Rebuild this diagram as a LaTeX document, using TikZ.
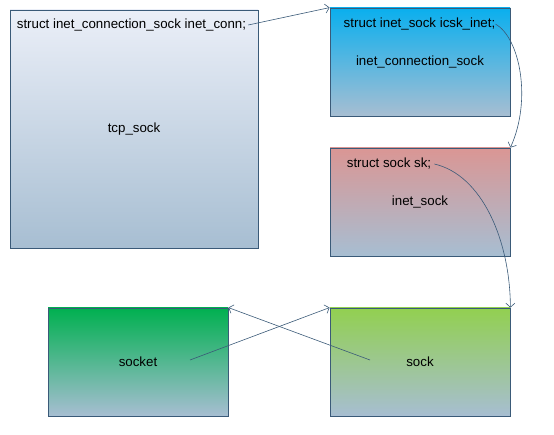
\documentclass[tikz,border=0pt]{standalone}
\usepackage{fontspec}
\setmainfont{Liberation Sans}
\usetikzlibrary{arrows.meta}
\definecolor{edgeblue}{HTML}{3A5A78}
\definecolor{fadeblue}{HTML}{A7BED2}
\definecolor{paleblue}{HTML}{EBEFF8}
\definecolor{skyblue}{HTML}{0AAFEE}
\definecolor{rosered}{HTML}{DA9694}
\definecolor{deepgreen}{HTML}{00B050}
\definecolor{limegreen}{HTML}{92D050}

\begin{document}
\begin{tikzpicture}[x=1pt,y=-1pt,font=\fontsize{13.3}{16}\selectfont,
    structbox/.style={draw=edgeblue,line width=0.8pt,bottom color=fadeblue,minimum width=180pt,minimum height=108pt,inner sep=0pt},
    ptr/.style={draw=edgeblue,line width=0.6pt,-{Straight Barb[length=4pt,width=9pt]}}]
            \useasboundingbox (0,0) rectangle (554,435);
            \node[structbox,top color=paleblue,minimum width=248pt,minimum height=238pt] (tcpsock) at (134,129){tcp\_sock};
            \node[structbox,top color=skyblue] (icsk) at (420,62){inet\_connection\_sock};
            \node[structbox,top color=rosered] (inetsock) at (420,202){inet\_sock};
            \node[structbox,top color=deepgreen] (socket) at (138,362){socket};
            \node[structbox,top color=limegreen] (sock) at (420,362){sock};
            \node[inner sep=2pt] (connfield) at (131.5,25){struct inet\_connection\_sock inet\_conn;};
            \node[inner sep=0pt] (icskfield) at (419.5,24){struct inet\_sock icsk\_inet;};
            \node[inner sep=3pt] (skfield) at (389,164){struct sock sk;};
            \coordinate (sockptr) at (190,360);
            \coordinate (skptr) at (370,360);
            \draw[ptr] (connfield.east)--(icsk.north west);
            \draw[ptr] (icskfield.east) .. controls (520,38) and (532,100) .. (inetsock.north east);
            \draw[ptr] (skfield.east) .. controls (482,175) and (510,240) .. (sock.north east);
            \draw[ptr] (sockptr)--(sock.north west);
            \draw[ptr] (skptr)--(socket.north east);
        \end{tikzpicture}
\end{document}
